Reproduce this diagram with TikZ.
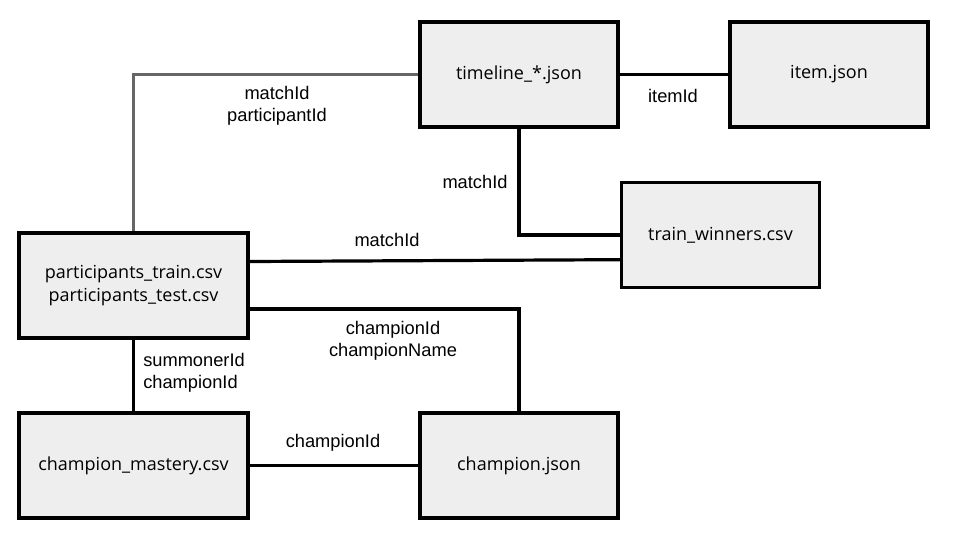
\documentclass[tikz,border=0pt]{standalone}
\usepackage{fontspec}
\setmainfont{Liberation Sans}
\newfontfamily\boxfont{Open Sans}
\definecolor{boxfill}{HTML}{EEEEEE}
\definecolor{greyline}{HTML}{666666}
\tikzset{
  filebox/.style={draw=black, fill=boxfill, line width=2.4pt, rectangle,
    minimum width=148.5pt, minimum height=78.75pt, align=center,
    font=\boxfont\fontsize{13.5}{17}\selectfont, inner sep=0pt},
  widebox/.style={filebox, minimum width=171.75pt},
  link/.style={draw=black, line width=2.4pt},
  greylink/.style={draw=greyline, line width=2.4pt},
  lbl/.style={align=center, font=\fontsize{13.7}{16.5}\selectfont, inner sep=0pt}
}
\begin{document}
\begin{tikzpicture}[x=0.75pt, y=-0.75pt]
\useasboundingbox (0,0) rectangle (960,540);
\node[filebox] (timeline) at (519,74.5) {timeline\_*.json};
\node[filebox] (item) at (829,74.5) {item.json};
\node[filebox] (train) at (720.5,235) {train\_winners.csv};
\node[widebox] (part) at (133.5,285.5) {participants\_train.csv\\participants\_test.csv};
\node[widebox] (mastery) at (133.5,465.5) {champion\_mastery.csv};
\node[filebox] (champ) at (519,465.5) {champion.json};

\draw[greylink] (timeline.west) -| (part.north);
\draw[link] (timeline.east) -- (item.west);
\draw[link] (timeline.south) |- (train.west);
\draw[link] ([yshift=18pt]part.east) -- ([yshift=-18.5pt]train.west);
\draw[link] ([yshift=-17.6pt]part.east) -| (champ.north);
\draw[link] (part.south) -- (mastery.north);
\draw[link] (mastery.east) -- (champ.west);

\node[lbl] (l1) at (277,106) {matchId\\participantId};
\node[lbl] (l2) at (673,96) {itemId};
\node[lbl] (l3) at (475,182) {matchId};
\node[lbl] (l4) at (387,240) {matchId};
\node[lbl] (l5) at (393,341) {championId\\championName};
\node[lbl, anchor=west, align=left] (l6) at (143,372.5) {summonerId\\championId};
\node[lbl] (l7) at (333,443) {championId};
\end{tikzpicture}
\end{document}
